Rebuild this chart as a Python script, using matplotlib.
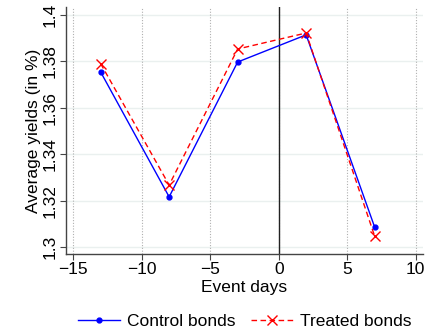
import matplotlib
matplotlib.use("Agg")
import matplotlib.pyplot as plt

# Data
event_days = [-13, -8, -3, 2, 7]
control_yields = [1.3754, 1.3216, 1.3797, 1.3914, 1.3086]
treated_yields = [1.3790, 1.3267, 1.3853, 1.3922, 1.3047]
x_ticks = [-15, -10, -5, 0, 5, 10]
y_ticks = [1.30, 1.32, 1.34, 1.36, 1.38, 1.40]
y_tick_labels = ["1.3", "1.32", "1.34", "1.36", "1.38", "1.4"]

plt.rcParams['font.family'] = ['Liberation Sans', 'DejaVu Sans']

fig = plt.figure(figsize=(4.41, 3.33), dpi=100)
ax = fig.add_axes([66 / 441, 1 - 254 / 333, (423 - 66) / 441, (254 - 7) / 333])

# grid: light horizontal lines, dotted vertical lines
for yv in y_ticks:
    ax.axhline(yv, color='#eaf0ef', lw=1.0, zorder=0)
for xv in x_ticks:
    ax.axvline(xv, color='#b0b0b0', lw=0.8, ls=(0, (1, 1.5)), zorder=0)
ax.axvline(0, color='#222222', lw=1.0, zorder=1)

ax.plot(event_days, control_yields, color='blue', lw=1.0, marker='o', ms=3.5,
        label='Control bonds', zorder=3)
ax.plot(event_days, treated_yields, color='red', lw=1.0, ls=(0, (4, 2.5)), marker='x',
        ms=7, mew=1.0, label='Treated bonds', zorder=3)

ax.set_xlim(-15.53, 10.53)
ax.set_ylim(1.297, 1.4034)
ax.set_xticks(x_ticks)
ax.set_xticklabels(["\u221215", "\u221210", "\u22125", "0", "5", "10"])
ax.set_yticks(y_ticks)
ax.set_yticklabels(y_tick_labels, rotation=90, va='center')
ax.tick_params(labelsize=12.5, length=4, color='#444444', width=0.8, pad=2)

for side in ['top', 'right']:
    ax.spines[side].set_visible(False)
for side in ['left', 'bottom']:
    ax.spines[side].set_color('#444444')
    ax.spines[side].set_linewidth(1.0)

ax.set_xlabel('Event days', fontsize=12.5, labelpad=2)
ax.set_ylabel('Average yields (in %)', fontsize=12.5, labelpad=1)

fig.legend(loc='lower center', bbox_to_anchor=(0.555, -0.035), ncol=2, frameon=False,
           fontsize=12.5, handlelength=2.4, columnspacing=0.9, handletextpad=0.4)

fig.savefig('out.png', dpi=100)
